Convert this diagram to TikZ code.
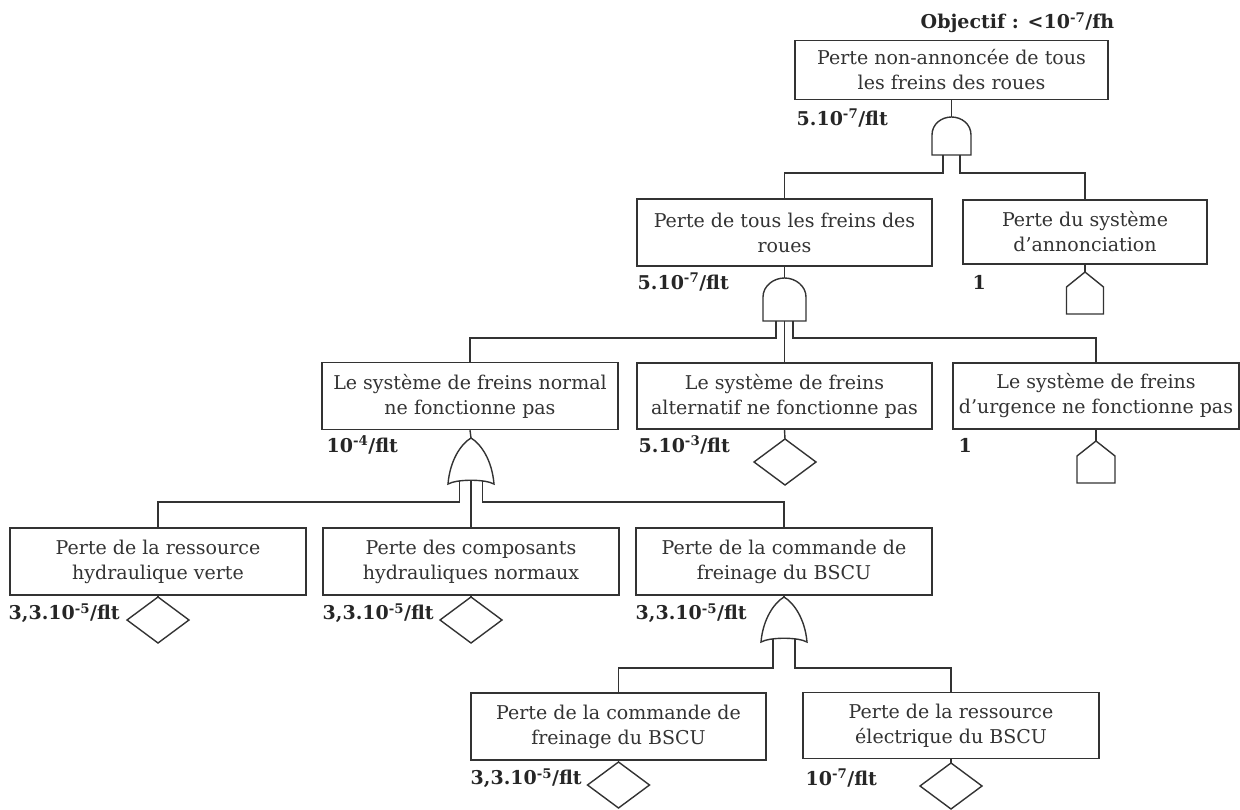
\documentclass[tikz,border=0pt]{standalone}
\usepackage{fontspec}
\setmainfont{DejaVu Serif}
\newcommand\bxfont{\fontsize{19}{25}\selectfont}
\newcommand\lbfont{\fontsize{19}{21}\selectfont\bfseries}
\begin{document}
\begin{tikzpicture}[x=1pt,y=-1pt,line width=1.4pt,draw=black!80,
  box/.style={draw=black!80,fill=white,align=center,inner sep=2pt,font=\bxfont,text=black!80},
  lbl/.style={anchor=west,inner sep=0pt,font=\lbfont,text=black!85}]
\useasboundingbox (0,0) rectangle (1240,810);
% boxes
\node[box,minimum width=313pt,minimum height=59pt] (A) at (951.5,70) {Perte non-annoncée de tous\\les freins des roues};
\node[box,minimum width=295pt,minimum height=67pt] (B) at (784.5,232.5) {Perte de tous les freins des\\roues};
\node[box,minimum width=244pt,minimum height=64pt] (C) at (1085,232) {Perte du système\\d’annonciation};
\node[box,minimum width=296pt,minimum height=67pt] (D) at (470,396) {Le système de freins normal\\ne fonctionne pas};
\node[box,minimum width=295pt,minimum height=66pt] (E) at (784.5,396) {Le système de freins\\alternatif ne fonctionne pas};
\node[box,minimum width=286pt,minimum height=66pt] (F) at (1096,396) {Le système de freins\\d’urgence ne fonctionne pas};
\node[box,minimum width=296pt,minimum height=67pt] (G) at (158,561.5) {Perte de la ressource\\hydraulique verte};
\node[box,minimum width=296pt,minimum height=67pt] (H) at (471,561.5) {Perte des composants\\hydrauliques normaux};
\node[box,minimum width=296pt,minimum height=67pt] (I) at (784,561.5) {Perte de la commande de\\freinage du BSCU};
\node[box,minimum width=295pt,minimum height=67pt] (K) at (618.5,726.5) {Perte de la commande de\\freinage du BSCU};
\node[box,minimum width=296pt,minimum height=66pt] (J) at (951,725.5) {Perte de la ressource\\électrique du BSCU};
% labels
\node[lbl] (obj) at (920,23) {Objectif : <10\textsuperscript{-7}/fh};
\node[lbl] (lA) at (796,118) {5.10\textsuperscript{-7}/flt};
\node[lbl] (lB) at (637,282) {5.10\textsuperscript{-7}/flt};
\node[lbl] (lC) at (972,282) {1};
\node[lbl] (lD) at (326,445) {10\textsuperscript{-4}/flt};
\node[lbl] (lE) at (638,445) {5.10\textsuperscript{-3}/flt};
\node[lbl] (lF) at (958,445) {1};
\node[lbl] (lG) at (8,613) {3,3.10\textsuperscript{-5}/flt};
\node[lbl] (lH) at (322,613) {3,3.10\textsuperscript{-5}/flt};
\node[lbl] (lI) at (635,613) {3,3.10\textsuperscript{-5}/flt};
\node[lbl] (lK) at (470,778) {3,3.10\textsuperscript{-5}/flt};
\node[lbl] (lJ) at (805,778) {10\textsuperscript{-7}/flt};
% gate coordinates
\coordinate (g1) at (951.5,117);
\coordinate (g1a) at (943,155);
\coordinate (g1b) at (960,155);
\coordinate (g2) at (784.5,278);
\coordinate (g2a) at (776,321);
\coordinate (g2b) at (784.5,321);
\coordinate (g2c) at (793,321);
\coordinate (g3) at (471,438);
\coordinate (g3a) at (459.5,481);
\coordinate (g3b) at (471,480);
\coordinate (g3c) at (482.5,481);
\coordinate (g4) at (784,597);
\coordinate (g4a) at (773,639);
\coordinate (g4b) at (795,639);
% gates
\draw[shift={(g1)}] (-19.5,38) -- (-19.5,18) .. controls (-19.5,7) and (-10,0) .. (0,0) .. controls (10,0) and (19.5,7) .. (19.5,18) -- (19.5,38) -- cycle;
\draw[shift={(g2)}] (-21.5,43) -- (-21.5,19) .. controls (-21.5,8) and (-11,0) .. (0,0) .. controls (11,0) and (21.5,8) .. (21.5,19) -- (21.5,43) -- cycle;
\draw[shift={(g3)}] (0,0) .. controls (10,6) and (21,22) .. (23,46) .. controls (14,41) and (-14,41) .. (-23,46) .. controls (-21,22) and (-10,6) .. (0,0) -- cycle;
\draw[shift={(g4)}] (0,0) .. controls (10,6) and (21,22) .. (23,45) .. controls (14,40) and (-14,40) .. (-23,45) .. controls (-21,22) and (-10,6) .. (0,0) -- cycle;
% basic events / house events
\coordinate (hC) at (1085,272);
\coordinate (hF) at (1096,441);
\coordinate (dE) at (785,439);
\coordinate (dG) at (158,597);
\coordinate (dH) at (471,597);
\coordinate (dK) at (618.5,762);
\coordinate (dJ) at (951,763);
\draw (hC) -- ++(18.5,15) -- ++(0,27) -- ++(-37,0) -- ++(0,-27) -- cycle;
\draw (hF) -- ++(19,15) -- ++(0,27) -- ++(-38,0) -- ++(0,-27) -- cycle;
\foreach \d in {dE,dG,dH,dK,dJ}
  \draw (\d) -- ++(31,23) -- ++(-31,23) -- ++(-31,-23) -- cycle;
% connectors
\draw (A.south) -- (g1);
\draw (g1a) -- ++(0,18) -| (B.north);
\draw (g1b) -- ++(0,18) -| (C.north);
\draw (B.south) -- (g2);
\draw (C.south) -- (hC);
\draw (g2a) -- ++(0,17) -| (D.north);
\draw (g2b) -- (E.north);
\draw (g2c) -- ++(0,17) -| (F.north);
\draw (D.south) -- (g3);
\draw (E.south) -- (dE);
\draw (F.south) -- (hF);
\draw (g3a) -- ++(0,21) -| (G.north);
\draw (g3b) -- (H.north);
\draw (g3c) -- ++(0,21) -| (I.north);
\draw (G.south) -- (dG);
\draw (H.south) -- (dH);
\draw (I.south) -- (g4);
\draw (g4a) -- ++(0,29) -| (K.north);
\draw (g4b) -- ++(0,29) -| (J.north);
\draw (K.south) -- (dK);
\draw (J.south) -- (dJ);
\end{tikzpicture}
\end{document}
